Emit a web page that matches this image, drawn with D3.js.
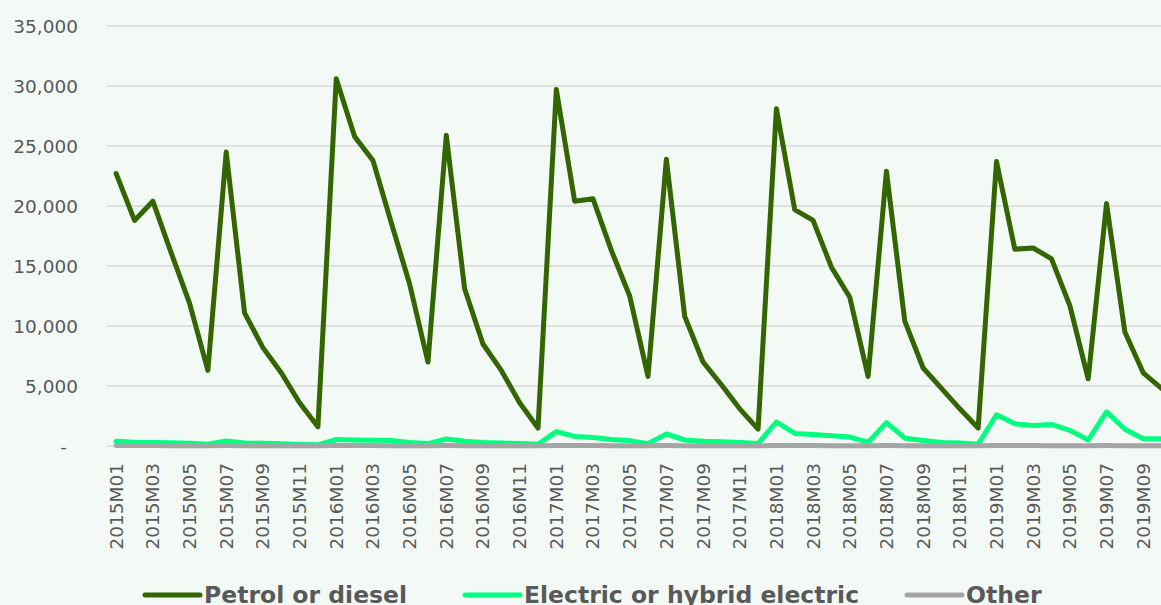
<!DOCTYPE html>
<html>
<head>
<meta charset="utf-8">
<script src="https://cdn.jsdelivr.net/npm/d3@7"></script>
<style>
  html, body { margin: 0; padding: 0; background: #f3faf6; }
  svg { display: block; }
  svg text { font-family: "DejaVu Sans", Verdana, sans-serif; }
</style>
</head>
<body>
<div class="chart"></div>
<script>
// Monthly registrations
const years = [2015, 2016, 2017, 2018, 2019];
const months = years.flatMap((y) =>
  d3.range(1, 13).map((m) => `${y}M${String(m).padStart(2, "0")}`)
).slice(0, 58);

const petrol = [
  22700, 18800, 20400, 16100, 11900, 6300, 24500, 11100, 8200, 6100, 3600, 1600,
  30600, 25800, 23800, 18600, 13500, 7000, 25900, 13100, 8500, 6300, 3600, 1500,
  29700, 20400, 20600, 16300, 12500, 5800, 23900, 10800, 7000, 5100, 3100, 1400,
  28100, 19700, 18800, 14900, 12400, 5800, 22900, 10400, 6500, 4800, 3100, 1500,
  23700, 16400, 16500, 15600, 11700, 5600, 20200, 9500, 6100, 4800,
];
const electric = [
  400, 320, 300, 280, 230, 150, 420, 250, 230, 180, 130, 100,
  550, 500, 480, 450, 300, 200, 580, 400, 300, 250, 200, 150,
  1200, 800, 700, 550, 450, 200, 1000, 500, 400, 350, 300, 200,
  2000, 1050, 950, 850, 750, 300, 1950, 650, 450, 300, 250, 150,
  2600, 1850, 1700, 1800, 1300, 500, 2850, 1400, 600, 600,
];
const other = [
  40, 35, 35, 30, 30, 25, 40, 30, 30, 25, 25, 20,
  40, 35, 35, 30, 30, 25, 40, 30, 30, 25, 25, 20,
  40, 35, 35, 30, 30, 25, 40, 30, 30, 25, 25, 20,
  40, 35, 35, 30, 30, 25, 40, 30, 30, 25, 25, 20,
  40, 35, 35, 30, 30, 25, 40, 30, 30, 25,
];
const yTicks = [0, 5000, 10000, 15000, 20000, 25000, 30000, 35000];

const series = [
  { name: "Petrol or diesel", values: petrol, color: "#336600" },
  { name: "Electric or hybrid electric", values: electric, color: "#00ff7f" },
  { name: "Other", values: other, color: "#a5a5a5" },
];

const width = 1161;
const height = 605;
const left = 107;
const step = 18.34;

const svg = d3
  .select(".chart")
  .append("svg")
  .attr("width", width)
  .attr("height", height);

const xScale = d3
  .scaleBand()
  .domain(months)
  .range([left, left + months.length * step]);

const yScale = d3.scaleLinear().domain([0, 35000]).range([446, 26]);

// gridlines
svg
  .append("g")
  .selectAll("line")
  .data(yTicks)
  .enter()
  .append("line")
  .attr("x1", left)
  .attr("x2", width)
  .attr("y1", (d) => yScale(d))
  .attr("y2", (d) => yScale(d))
  .attr("stroke", "#d9d9d9")
  .attr("stroke-width", 1.5);

// y axis labels
const yAxis = d3
  .axisLeft(yScale)
  .tickValues(yTicks)
  .tickSize(0)
  .tickPadding(0)
  .tickFormat((d) => (d === 0 ? "-" : d3.format(",")(d)));

const yg = svg.append("g").attr("transform", "translate(78,0)").call(yAxis);
yg.attr("font-family", null);
yg.select(".domain").remove();
yg.selectAll("text")
  .attr("fill", "#595959")
  .style("font-size", "18.5px")
  .attr("dy", "0.35em")
  .filter((d) => d === 0)
  .attr("x", -11);

// x axis labels, every second month
const xAxis = d3
  .axisBottom(xScale)
  .tickValues(months.filter((d, i) => i % 2 === 0))
  .tickSize(0)
  .tickPadding(0);

const xg = svg.append("g").attr("transform", "translate(0,446)").call(xAxis);
xg.attr("font-family", null);
xg.select(".domain").remove();
xg.selectAll("text")
  .attr("fill", "#595959")
  .style("font-size", "18.5px")
  .attr("text-anchor", "end")
  .attr("transform", "rotate(-90)")
  .attr("x", -17)
  .attr("y", 0)
  .attr("dy", "0.35em");

// lines
const line = d3
  .line()
  .x((d, i) => xScale(months[i]) + xScale.bandwidth() / 2)
  .y((d) => yScale(d));

svg
  .append("g")
  .selectAll("path")
  .data(series)
  .enter()
  .append("path")
  .attr("d", (s) => line(s.values))
  .attr("fill", "none")
  .attr("stroke", (s) => s.color)
  .attr("stroke-width", 5)
  .attr("stroke-linejoin", "round")
  .attr("stroke-linecap", "round");

// legend
const legendX = [145, 465, 907];
const legend = svg
  .append("g")
  .selectAll("g")
  .data(series)
  .enter()
  .append("g")
  .attr("transform", (s, i) => `translate(${legendX[i]},595)`);

legend
  .append("line")
  .attr("x1", 0)
  .attr("x2", 55)
  .attr("stroke", (s) => s.color)
  .attr("stroke-width", 5)
  .attr("stroke-linecap", "round");

legend
  .append("text")
  .attr("x", 59)
  .attr("dy", "0.35em")
  .attr("fill", "#595959")
  .style("font-size", "23.5px")
  .style("font-weight", "bold")
  .text((s) => s.name);
</script>
</body>
</html>
